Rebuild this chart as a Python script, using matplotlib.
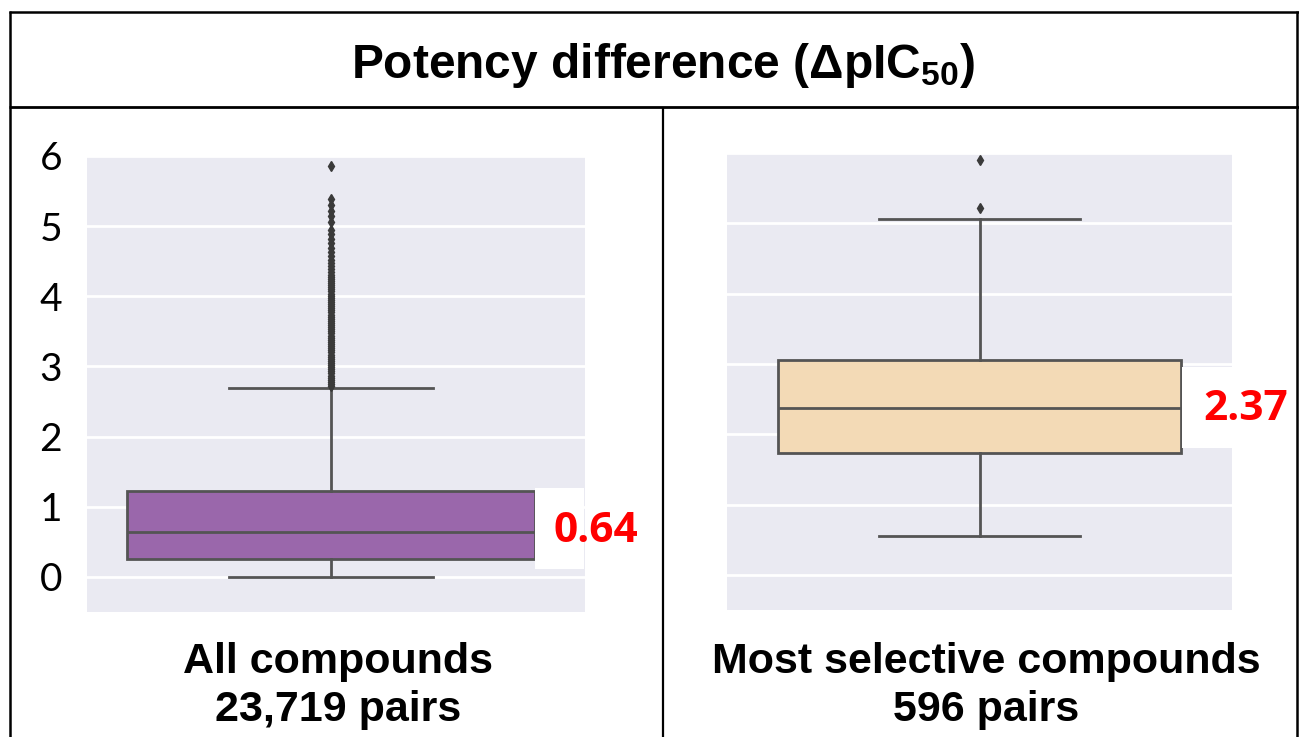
import matplotlib
matplotlib.use("Agg")
import matplotlib.pyplot as plt
from matplotlib.patches import Rectangle
from matplotlib.lines import Line2D

# ---------------- data ----------------
title = "Potency difference (ΔpIC$_{50}$)"
yticks = [0, 1, 2, 3, 4, 5, 6]

left_label = ["All compounds", "23,719 pairs"]
left_stats = dict(whislo=0.0, q1=0.25, med=0.64, q3=1.22, whishi=2.70)
left_fliers = [2.72, 2.75, 2.78, 2.81, 2.84, 2.87, 2.90, 2.93, 2.96, 2.99,
               3.02, 3.05, 3.08, 3.11, 3.14, 3.17, 3.20, 3.23, 3.26, 3.29,
               3.32, 3.35, 3.38, 3.41, 3.44, 3.47, 3.50, 3.53, 3.56, 3.59,
               3.62, 3.65, 3.68, 3.71, 3.74, 3.77, 3.80, 3.83, 3.86, 3.89,
               3.92, 3.95, 3.98, 4.01, 4.04, 4.07, 4.10, 4.13, 4.16, 4.19,
               4.22, 4.25, 4.28, 4.31, 4.35, 4.39, 4.43, 4.47, 4.52, 4.57,
               4.63, 4.69, 4.76, 4.82, 4.89, 4.95, 5.06, 5.14, 5.22, 5.30,
               5.38, 5.86]
left_value = "0.64"

right_label = ["Most selective compounds", "596 pairs"]
right_stats = dict(whislo=0.55, q1=1.74, med=2.37, q3=3.05, whishi=5.06)
right_fliers = [5.22, 5.90]
right_value = "2.37"

# ---------------- style ----------------
W, H = 1299, 737
plt.rcParams['mathtext.fontset'] = 'custom'
plt.rcParams['mathtext.rm'] = 'Liberation Sans:bold'
plt.rcParams['mathtext.it'] = 'Liberation Sans:bold'
plt.rcParams['mathtext.bf'] = 'Liberation Sans:bold'

LINE = '#545454'
BG = '#eaeaf2'

fig = plt.figure(figsize=(W / 100, H / 100), dpi=100)
fig.patch.set_facecolor('white')


def fx(x):
    return x / W


def fy(y):
    return 1 - y / H


def make_axes(x0, x1, y0, y1):
    return fig.add_axes([fx(x0), fy(y1), fx(x1) - fx(x0), fy(y0) - fy(y1)])


def draw_box(ax, stats, fliers, color, xlim):
    s = dict(stats)
    s['fliers'] = fliers
    ax.bxp([s], positions=[0], widths=[1.0], capwidths=[0.5],
           patch_artist=True, showfliers=True,
           boxprops=dict(facecolor=color, edgecolor=LINE, linewidth=2),
           medianprops=dict(color=LINE, linewidth=2),
           whiskerprops=dict(color=LINE, linewidth=2),
           capprops=dict(color=LINE, linewidth=2),
           flierprops=dict(marker='d', markersize=5.5, markerfacecolor='#3a3a3a',
                           markeredgecolor='#3a3a3a', linestyle='none'))
    ax.set_facecolor(BG)
    ax.set_xlim(*xlim)
    ax.set_ylim(-0.5, 6.0)
    ax.set_yticks(yticks)
    ax.set_xticks([])
    ax.grid(axis='y', color='white', linewidth=2)
    ax.set_axisbelow(True)
    for sp in ax.spines.values():
        sp.set_visible(False)
    ax.tick_params(axis='y', length=0)


# left panel
axL = make_axes(87, 585, 156, 612)
draw_box(axL, left_stats, left_fliers, '#9a67ab', (-0.598, 0.6225))
axL.set_yticklabels([str(t) for t in yticks], fontsize=28, family='Lato')
axL.tick_params(axis='y', pad=18)

# right panel
axR = make_axes(727, 1232, 153, 610)
draw_box(axR, right_stats, right_fliers, '#f3dab6', (-0.6266, 0.6266))
axR.set_yticklabels([])

# white label patches and value labels
fig.add_artist(Rectangle((fx(535), fy(569)), fx(584) - fx(535), fy(488) - fy(569),
                         transform=fig.transFigure, facecolor='white',
                         edgecolor='none', zorder=5))
fig.add_artist(Rectangle((fx(1182), fy(448)), fx(1233) - fx(1182), fy(367) - fy(448),
                         transform=fig.transFigure, facecolor='white',
                         edgecolor='none', zorder=5))
fig.text(fx(596), fy(531), left_value, color='red', fontsize=30.5, fontweight='bold',
         family='Open Sans', ha='center', va='center', zorder=6)
fig.text(fx(1246), fy(410), right_value, color='red', fontsize=30.5, fontweight='bold',
         family='Open Sans', ha='center', va='center', zorder=6)

# title and bottom labels
fig.text(fx(663), fy(66), title, fontsize=34.5, fontweight='bold',
         family='Liberation Sans', ha='center', va='center')
for cx, lines in ((338, left_label), (986, right_label)):
    fig.text(fx(cx), fy(662), lines[0], fontsize=31, fontweight='bold',
             family='Liberation Sans', ha='center', va='center')
    fig.text(fx(cx), fy(710), lines[1], fontsize=31, fontweight='bold',
             family='Liberation Sans', ha='center', va='center')

# table-like frame
def hline(y, x0, x1, lw):
    fig.add_artist(Line2D([fx(x0), fx(x1)], [fy(y), fy(y)], transform=fig.transFigure,
                          color='black', linewidth=lw, solid_capstyle='butt'))


def vline(x, y0, y1, lw):
    fig.add_artist(Line2D([fx(x), fx(x)], [fy(y0), fy(y1)], transform=fig.transFigure,
                          color='black', linewidth=lw, solid_capstyle='butt'))


hline(11.5, 9, 1299, 1.8)
hline(107, 9, 1299, 2.0)
vline(10, 10.5, 737, 1.8)
vline(663, 107, 737, 1.6)
vline(1297, 10.5, 737, 1.8)

fig.savefig('out.png', dpi=100)
